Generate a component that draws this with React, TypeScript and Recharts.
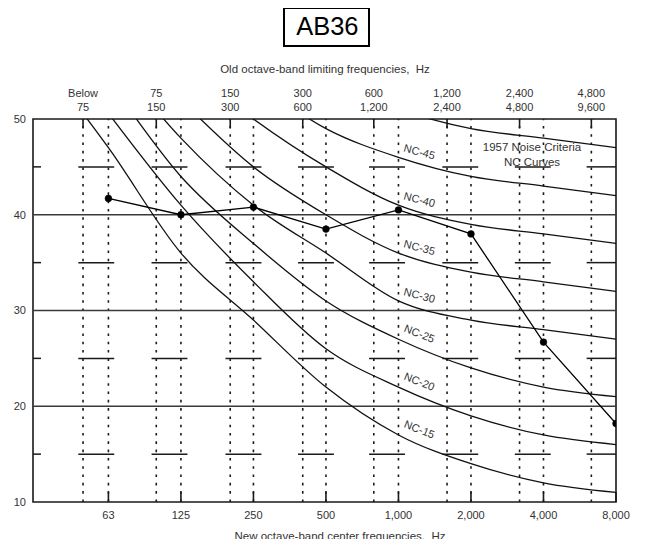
import React from "react";
import {
  ComposedChart,
  Line,
  XAxis,
  YAxis,
  ReferenceLine,
  ReferenceDot,
  ReferenceArea,
} from "recharts";

// ---------- data ----------
// x positions are octave-band indices: 0 = 63 Hz ... 7 = 8,000 Hz
const centerIdx = [0, 1, 2, 3, 4, 5, 6, 7];
const centerLabels = ["63", "125", "250", "500", "1,000", "2,000", "4,000", "8,000"];
// old octave-band upper limits (75, 150, ... 9,600 Hz) on the same index scale
const oldLimitIdx = [-0.35, 0.66, 1.68, 2.68, 3.66, 4.67, 5.67, 6.66];
const oldTopLabels = ["Below", "75", "150", "300", "600", "1,200", "2,400", "4,800"];
const oldBottomLabels = ["75", "150", "300", "600", "1,200", "2,400", "4,800", "9,600"];

// curve x indices (first one extrapolated to the left edge)
const curveIdx = [-1, 0, 1, 2, 3, 4, 5, 6, 7];
const nc15 = [57, 47, 36, 29, 22, 17, 14, 12, 11];
const nc20 = [61, 50.6, 41, 33, 26, 22, 19, 17, 16];
const nc25 = [64, 54, 44, 37, 31, 27, 24, 22, 21];
const nc30 = [67, 57, 48, 41, 36, 31, 29, 28, 27];
const nc35 = [69, 60, 52, 45, 40, 36, 34, 33, 32];
const nc40 = [72, 64, 56, 50, 45, 41, 39, 38, 37];
const nc45 = [75, 67, 60, 54, 49, 46, 44, 43, 42];
const nc50 = [78, 71, 64, 58, 54, 51, 49, 48, 47];

const measured = [41.7, 40.0, 40.8, 38.5, 40.5, 38.0, 26.7, 18.2];

const yTicks = [10, 20, 30, 40, 50];
const majorGridY = [20, 30, 40];
const minorGridY = [15, 25, 35, 45];

const curves = [
  { key: "nc15", name: "NC-15", values: nc15, labeled: true },
  { key: "nc20", name: "NC-20", values: nc20, labeled: true },
  { key: "nc25", name: "NC-25", values: nc25, labeled: true },
  { key: "nc30", name: "NC-30", values: nc30, labeled: true },
  { key: "nc35", name: "NC-35", values: nc35, labeled: true },
  { key: "nc40", name: "NC-40", values: nc40, labeled: true },
  { key: "nc45", name: "NC-45", values: nc45, labeled: true },
  { key: "nc50", name: "NC-50", values: nc50, labeled: false },
];

const rows = curveIdx.map((x, i) => {
  const r: any = { x };
  curves.forEach((c) => (r[c.key] = c.values[i]));
  const mi = centerIdx.indexOf(x);
  if (mi >= 0) r.measured = measured[mi];
  return r;
});

// ---------- layout ----------
const W = 633;
const H = 531;
const X_MIN = -1.04;
const X_MAX = 7;
const Y_MIN = 10;
const Y_MAX = 50;
const PX_PER_DB = 383 / 40;
const PX_PER_OCT = 72.57;
const FONT = "'Liberation Sans', Arial, Helvetica, sans-serif";
const TXT = "#333";
const INK = "#1a1a1a";

const findOld = (v: number) => {
  let best = -1;
  let bd = 1e9;
  oldLimitIdx.forEach((o, i) => {
    const d = Math.abs(o - v);
    if (d < bd) {
      bd = d;
      best = i;
    }
  });
  return bd < 0.01 ? best : -1;
};

const TopTick = (props: any) => {
  const { x, y, payload } = props;
  const i = findOld(payload ? Number(payload.value) : NaN);
  if (i < 0) return null;
  return (
    <g>
      <text x={x} y={y - 22} textAnchor="middle" fontSize={11} fill={TXT}>
        {oldTopLabels[i]}
      </text>
      <text x={x} y={y - 8.5} textAnchor="middle" fontSize={11} fill={TXT}>
        {oldBottomLabels[i]}
      </text>
    </g>
  );
};

const ncLabel = (text: string, angle: number) => (props: any) => {
  const vb = props.viewBox || {};
  const cx = (vb.x || 0) + (vb.width || 0) / 2;
  const cy = (vb.y || 0) + (vb.height || 0) / 2;
  return (
    <text
      x={cx}
      y={cy}
      textAnchor="middle"
      dominantBaseline="central"
      transform={`rotate(${angle} ${cx} ${cy})`}
      fontSize={11}
      fill={TXT}
    >
      {text}
    </text>
  );
};

export default function App() {
  return (
    <div style={{ position: "relative", width: W, height: H, fontFamily: FONT }}>
      <ComposedChart
        width={W}
        height={H}
        data={rows}
        margin={{ top: 81, right: 25, bottom: 7, left: 0 }}
      >
        <XAxis
          dataKey="x"
          type="number"
          domain={[X_MIN, X_MAX]}
          allowDataOverflow
          ticks={centerIdx}
          tickFormatter={(v: number) => centerLabels[centerIdx.indexOf(v)] ?? ""}
          axisLine={false}
          tickLine={false}
          tickSize={0}
          tickMargin={9}
          height={30}
          interval={0}
          tick={{ fontSize: 11, fill: TXT }}
        />
        <XAxis
          xAxisId="top"
          dataKey="x"
          orientation="top"
          type="number"
          domain={[X_MIN, X_MAX]}
          allowDataOverflow
          ticks={oldLimitIdx}
          axisLine={false}
          tickLine={false}
          tickSize={0}
          tickMargin={0}
          height={30}
          interval={0}
          tick={<TopTick />}
        />
        <YAxis
          type="number"
          domain={[Y_MIN, Y_MAX]}
          allowDataOverflow
          ticks={yTicks}
          axisLine={false}
          tickLine={false}
          tickSize={0}
          tickMargin={7}
          width={25}
          interval={0}
          tick={{ fontSize: 11, fill: TXT }}
        />

        {/* dotted verticals */}
        {centerIdx
          .filter((v) => v < X_MAX)
          .map((v) => (
            <ReferenceLine
              key={"c" + v}
              x={v}
              stroke={INK}
              strokeWidth={1.6}
              strokeDasharray="2.6 5.7"
            />
          ))}
        {oldLimitIdx.map((v) => (
          <ReferenceLine
            key={"o" + v}
            x={v}
            stroke={INK}
            strokeWidth={1.6}
            strokeDasharray="2.6 5.7"
          />
        ))}

        {/* major horizontal gridlines */}
        {majorGridY.map((y) => (
          <ReferenceLine key={"g" + y} y={y} stroke="#3a3a3a" strokeWidth={1.6} />
        ))}

        {/* minor horizontal dashes */}
        {minorGridY.map((y) => (
          <ReferenceLine
            key={"ml" + y}
            segment={[
              { x: X_MIN, y },
              { x: X_MIN + 0.11, y },
            ]}
            stroke={INK}
            strokeWidth={1.5}
          />
        ))}
        {minorGridY.flatMap((y) =>
          oldLimitIdx.map((o) => (
            <ReferenceLine
              key={"m" + y + "_" + o}
              segment={[
                { x: o - 0.065, y },
                { x: Math.min(o + 0.43, X_MAX), y },
              ]}
              stroke={INK}
              strokeWidth={1.5}
            />
          ))
        )}

        {/* bottom ticks at center frequencies, top ticks at old limits */}
        {centerIdx.map((v) => (
          <ReferenceLine
            key={"bt" + v}
            segment={[
              { x: v, y: Y_MIN },
              { x: v, y: Y_MIN + 1.05 },
            ]}
            stroke={INK}
            strokeWidth={1.6}
          />
        ))}
        {oldLimitIdx.map((v) => (
          <ReferenceLine
            key={"tt" + v}
            segment={[
              { x: v, y: Y_MAX },
              { x: v, y: Y_MAX - 0.95 },
            ]}
            stroke={INK}
            strokeWidth={1.6}
          />
        ))}

        {/* NC curves */}
        {curves.map((c) => (
          <Line
            key={c.key}
            dataKey={c.key}
            type="monotone"
            stroke="#111"
            strokeWidth={1.3}
            dot={false}
            activeDot={false}
            isAnimationActive={false}
          />
        ))}

        {/* measured spectrum */}
        <Line
          dataKey="measured"
          type="linear"
          stroke="#000"
          strokeWidth={1.3}
          dot={{ r: 3.4, fill: "#000", stroke: "#000", strokeWidth: 0.5 }}
          activeDot={false}
          isAnimationActive={false}
        />

        {/* NC labels */}
        {curves
          .filter((c) => c.labeled)
          .map((c) => {
            const v4 = c.values[curveIdx.indexOf(4)];
            const v5 = c.values[curveIdx.indexOf(5)];
            const angle = (Math.atan(((v4 - v5) * PX_PER_DB) / PX_PER_OCT) * 180) / Math.PI;
            return (
              <ReferenceDot
                key={"l" + c.key}
                x={4.29}
                y={v4 + 0.6}
                r={0}
                fill="none"
                stroke="none"
                label={ncLabel(c.name, angle)}
              />
            );
          })}

        {/* plot frame */}
        <ReferenceArea
          x1={X_MIN}
          x2={X_MAX}
          y1={Y_MIN}
          y2={Y_MAX}
          fill="none"
          fillOpacity={0}
          stroke={INK}
          strokeWidth={1.6}
        />
      </ComposedChart>

      {/* title box */}
      <div
        style={{
          position: "absolute",
          left: 274.7,
          top: -0.7,
          width: 87.3,
          height: 39.4,
          boxSizing: "border-box",
          border: "2px solid #000",
          display: "flex",
          alignItems: "center",
          justifyContent: "center",
          fontSize: 25.5,
          color: "#000",
          lineHeight: 1,
          paddingLeft: 2,
        }}
      >
        AB36
      </div>

      {/* axis titles */}
      <div
        style={{
          position: "absolute",
          left: 317,
          top: 62,
          transform: "translate(-50%, -50%)",
          fontSize: 11.5,
          color: TXT,
          whiteSpace: "pre",
          lineHeight: 1,
        }}
      >
        {"Old octave-band limiting frequencies,  Hz"}
      </div>
      <div
        style={{
          position: "absolute",
          left: 332,
          top: 528.7,
          transform: "translate(-50%, -50%)",
          fontSize: 11.5,
          color: TXT,
          whiteSpace: "pre",
          lineHeight: 1,
        }}
      >
        {"New octave-band center frequencies,  Hz"}
      </div>

      {/* legend text */}
      <div
        style={{
          position: "absolute",
          left: 524,
          top: 146.8,
          transform: "translate(-50%, -50%)",
          fontSize: 11.5,
          color: TXT,
          whiteSpace: "pre",
          lineHeight: "15px",
          textAlign: "center",
        }}
      >
        {"1957 Noise Criteria\nNC Curves"}
      </div>
    </div>
  );
}
